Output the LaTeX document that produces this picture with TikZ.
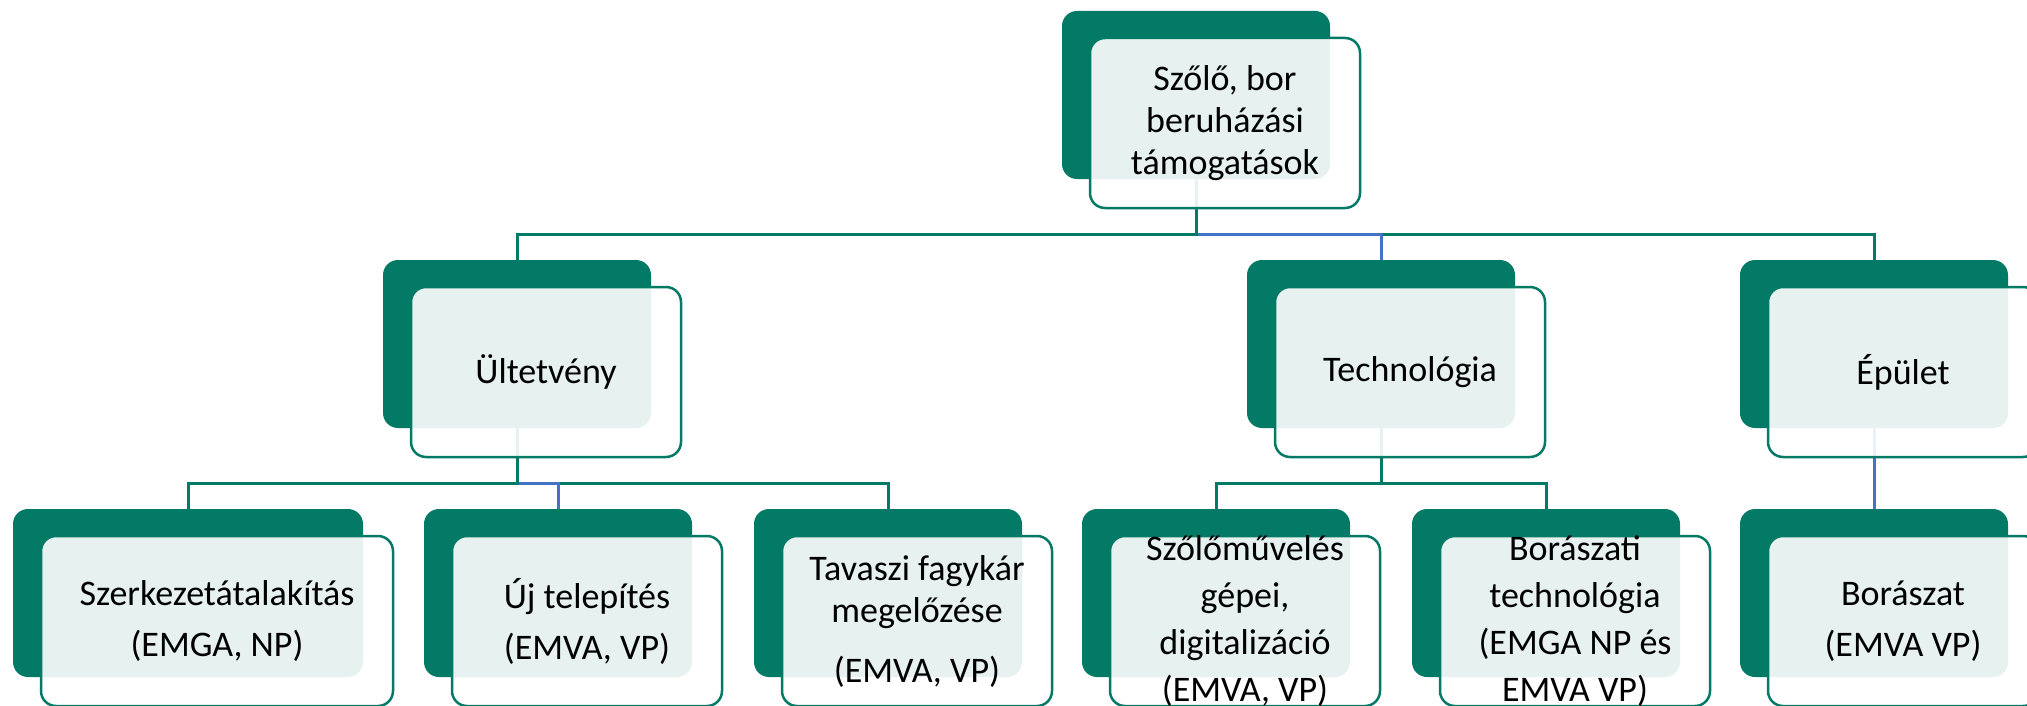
\documentclass[tikz,border=0pt]{standalone}
\usepackage{fontspec}
\setmainfont{Carlito}
\usepackage{tikz}
\definecolor{zold}{RGB}{3,122,102}
\definecolor{kek}{RGB}{68,114,196}
\tikzset{
	alap/.style={fill=zold, draw=none, rounded corners=15pt, minimum width=268pt, minimum height=168pt, inner sep=0pt, outer sep=0pt},
	keret/.style={fill=white, fill opacity=0.9, draw=zold, line width=2.5pt, rounded corners=15pt, minimum width=270pt, minimum height=170pt, inner sep=0pt, outer sep=0pt},
	felirat/.style={align=center, text=black, inner sep=0pt, font=\fontsize{36}{42}\selectfont},
	vonal/.style={draw=zold, line width=3pt},
	kekvonal/.style={draw=kek, line width=3pt}
}
\begin{document}
\begin{tikzpicture}[x=1pt,y=-1pt]
			\useasboundingbox (0,0) rectangle (2027,706);
			\clip (0,0) rectangle (2027,706);
			\node [alap] (fo) at (1196,95) {};
			\node [alap] (ultet) at (517,344) {};
			\node [alap] (techn) at (1381,344) {};
			\node [alap] (epulet) at (1874,344) {};
			\node [alap, minimum width=350pt] (szerk) at (188,593) {};
			\node [alap] (ujtel) at (558,593) {};
			\node [alap] (tavasz) at (888,593) {};
			\node [alap] (szolo) at (1216,593) {};
			\node [alap] (bortech) at (1546,593) {};
			\node [alap] (boraszat) at (1874,593) {};
			\coordinate (sor1) at (0,234);
			\coordinate (sor2) at (0,483);
			\draw [vonal] (fo.south) -- (fo.south |- sor1) -| (epulet.north);
			\draw [kekvonal] (fo.south) -- (fo.south |- sor1) -| (techn.north);
			\draw [vonal] (fo.south) -- (fo.south |- sor1) -| (ultet.north);
			\draw [vonal] (ultet.south) -- (ultet.south |- sor2) -| (tavasz.north);
			\draw [kekvonal] (ultet.south) -- (ultet.south |- sor2) -| (ujtel.north);
			\draw [vonal] (ultet.south) -- (ultet.south |- sor2) -| (szerk.north);
			\draw [vonal] (techn.south) -- (techn.south |- sor2) -| (bortech.north);
			\draw [vonal] (techn.south) -- (techn.south |- sor2) -| (szolo.north);
			\draw [kekvonal] (epulet.south) -- (boraszat.north);
			\node [keret] (fo-k) at ([shift={(29,28)}]fo) {};
			\node [keret] (ultet-k) at ([shift={(29,28)}]ultet) {};
			\node [keret] (techn-k) at ([shift={(29,28)}]techn) {};
			\node [keret] (epulet-k) at ([shift={(29,28)}]epulet) {};
			\node [keret, minimum width=352pt] (szerk-k) at ([shift={(29,28)}]szerk) {};
			\node [keret] (ujtel-k) at ([shift={(29,28)}]ujtel) {};
			\node [keret] (tavasz-k) at ([shift={(29,28)}]tavasz) {};
			\node [keret] (szolo-k) at ([shift={(29,28)}]szolo) {};
			\node [keret] (bortech-k) at ([shift={(29,28)}]bortech) {};
			\node [keret] (boraszat-k) at ([shift={(29,28)}]boraszat) {};
			\node [felirat] (fo-f) at (fo-k) {Szőlő, bor\\beruházási\\támogatások};
			\node [felirat] (ultet-f) at (ultet-k) {Ültetvény};
			\node [felirat] (techn-f) at (techn-k) {Technológia};
			\node [felirat] (epulet-f) at (epulet-k) {Épület};
			\node [felirat] (szerk-f) at (szerk-k) {Szerkezetátalakítás\\[9pt](EMGA, NP)};
			\node [felirat] (ujtel-f) at (ujtel-k) {Új telepítés\\[9pt](EMVA, VP)};
			\node [felirat] (tavasz-f) at (tavasz-k) {Tavaszi fagykár\\megelőzése\\[18pt](EMVA, VP)};
			\node [felirat, font=\fontsize{36}{47}\selectfont] (szolo-f) at (szolo-k) {Szőlőművelés\\gépei,\\digitalizáció\\(EMVA, VP)};
			\node [felirat, font=\fontsize{36}{47}\selectfont] (bortech-f) at (bortech-k) {Borászati\\technológia\\(EMGA NP és\\EMVA VP)};
			\node [felirat] (boraszat-f) at (boraszat-k) {Borászat\\[9pt](EMVA VP)};
\end{tikzpicture}
\end{document}
